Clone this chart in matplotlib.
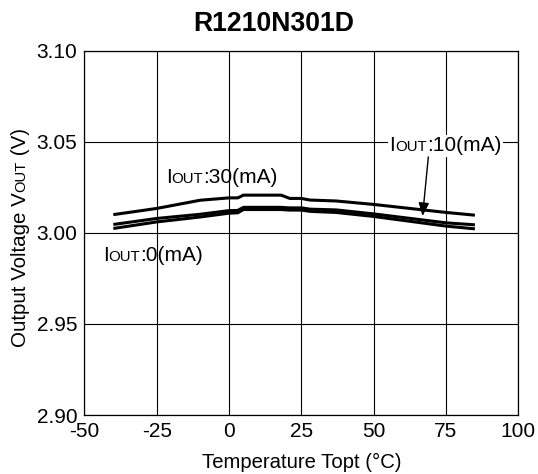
import matplotlib
matplotlib.use('Agg')
import matplotlib.pyplot as plt
from matplotlib.transforms import offset_copy, Bbox
from matplotlib.patches import Rectangle

plt.rcParams['font.family'] = ['Liberation Sans', 'DejaVu Sans']
plt.rcParams['axes.unicode_minus'] = False

# datos
temp = [-40, -25, -10, 0, 3, 5, 18, 21, 25, 28, 37, 50, 75, 85]
vout_30 = [3.0100, 3.0134, 3.0179, 3.0192, 3.0192, 3.0207, 3.0207, 3.0189, 3.0189, 3.0180, 3.0175, 3.0156, 3.0112, 3.0097]
vout_10 = [3.0046, 3.0079, 3.0102, 3.0122, 3.0123, 3.0140, 3.0140, 3.0137, 3.0137, 3.0130, 3.0126, 3.0104, 3.0055, 3.0044]
vout_0 = [3.0024, 3.0060, 3.0087, 3.0108, 3.0110, 3.0128, 3.0128, 3.0125, 3.0125, 3.0118, 3.0112, 3.0090, 3.0037, 3.0022]

x_ticks = [-50, -25, 0, 25, 50, 75, 100]
y_ticks = [2.90, 2.95, 3.00, 3.05, 3.10]

W, H = 538, 474
fig = plt.figure(figsize=(W / 100, H / 100), dpi=100)
ax = fig.add_axes([84.4 / W, 1 - 415 / H, (518.3 - 84.4) / W, (415 - 50.7) / H])

for v in (vout_30, vout_10, vout_0):
    ax.plot(temp, v, color='black', lw=2.2, solid_capstyle='butt', zorder=3)

ax.set_xlim(-50, 100)
ax.set_ylim(2.90, 3.10)
ax.set_xticks(x_ticks)
ax.set_yticks(y_ticks)
ax.set_xticklabels([str(t) for t in x_ticks])
ax.set_yticklabels([f"{t:.2f}" for t in y_ticks])
ax.tick_params(length=0, pad=5, labelsize=15, colors='black')
ax.grid(True, color='black', lw=0.8)
ax.set_axisbelow(True)
for s in ax.spines.values():
    s.set_linewidth(0.9)

fig.canvas.draw()
rend = fig.canvas.get_renderer()


# texto con "OUT" en versalitas (mas pequeño)
def texto_iout(x, y, antes, despues, trans, rot=0, size=15, small=10.8, z=4):
    partes = [(antes, size), ('OUT', small), (despues, size)]
    avance = 0.0
    arts = []
    for s, fs in partes:
        if rot == 0:
            tr = offset_copy(trans, fig=fig, x=avance, y=0, units='dots')
        else:
            tr = offset_copy(trans, fig=fig, x=0, y=avance, units='dots')
        t = ax.text(x, y, s, fontsize=fs, rotation=rot, rotation_mode='anchor',
                    ha='left', va='baseline', transform=tr, zorder=z, clip_on=False)
        ext = t.get_window_extent(renderer=rend)
        avance += ext.width if rot == 0 else ext.height
        arts.append(t)
    return arts


texto_iout(-21.9, 3.0271, 'I', ':30(mA)', ax.transData)
texto_iout(-43.6, 2.9845, 'I', ':0(mA)', ax.transData)
t10 = texto_iout(55.5, 3.0448, 'I', ':10(mA)', ax.transData, z=5)

# caja blanca detras de la etiqueta de 10mA
bb = Bbox.union([t.get_window_extent(renderer=rend) for t in t10]).padded(1.5)
(x0, y0), (x1, y1) = ax.transData.inverted().transform([[bb.x0, bb.y0], [bb.x1, bb.y1]])
ax.add_patch(Rectangle((x0, y0), x1 - x0, y1 - y0, facecolor='white', edgecolor='none', zorder=2))

ax.annotate('', xy=(66.9, 3.0092), xytext=(68.9, 3.0417),
            arrowprops=dict(arrowstyle='-|>,head_length=0.5,head_width=0.2', color='black',
                            lw=1.0, mutation_scale=16, shrinkA=0, shrinkB=0), zorder=5)

# etiqueta eje y
texto_iout(25.7 / W, 1 - 347 / H, 'Output Voltage V', ' (V)', fig.transFigure, rot=90, size=14.8, small=10.6)

fig.text(301.35 / W, 1 - 468 / H, 'Temperature Topt (°C)', fontsize=14.6, ha='center', va='baseline')
fig.text(273.5 / W, 1 - 31 / H, 'R1210N301D', fontsize=19.2, fontweight='bold', ha='center', va='baseline')

fig.savefig('out.png', dpi=100)
